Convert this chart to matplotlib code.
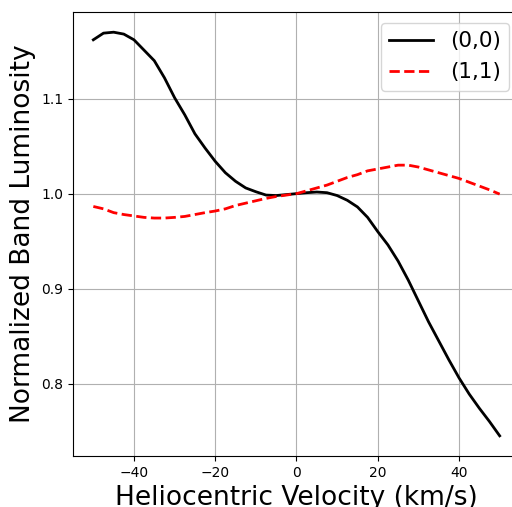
import matplotlib
matplotlib.use("Agg")
import matplotlib.pyplot as plt

velocity = [-50, -47.5, -45, -42.5, -40, -37.5, -35, -32.5, -30, -27.5, -25,
            -22.5, -20, -17.5, -15, -12.5, -10, -7.5, -5, -2.5, 0,
            2.5, 5, 7.5, 10, 12.5, 15, 17.5, 20, 22.5, 25,
            27.5, 30, 32.5, 35, 37.5, 40, 42.5, 45, 47.5, 50]

band_00 = [1.162, 1.169, 1.170, 1.168, 1.162, 1.151, 1.140, 1.122, 1.101, 1.083, 1.063,
           1.048, 1.034, 1.022, 1.013, 1.006, 1.002, 0.9985, 0.998, 0.999, 1.000,
           1.001, 1.0017, 1.001, 0.998, 0.993, 0.986, 0.975, 0.960, 0.946, 0.929,
           0.909, 0.887, 0.865, 0.845, 0.825, 0.806, 0.789, 0.774, 0.760, 0.745]

band_11 = [0.9865, 0.984, 0.980, 0.978, 0.9765, 0.975, 0.9743, 0.9743, 0.975, 0.976, 0.978,
           0.980, 0.9817, 0.984, 0.9875, 0.990, 0.9925, 0.995, 0.997, 0.9985, 1.000,
           1.003, 1.006, 1.009, 1.013, 1.017, 1.020, 1.024, 1.026, 1.028, 1.030,
           1.030, 1.028, 1.025, 1.022, 1.019, 1.016, 1.012, 1.008, 1.004, 0.9995]

fig = plt.figure(figsize=(5.12, 5.07), dpi=100)
ax = fig.add_axes([0.1426, 0.1006, 0.873, 0.8757])

ax.plot(velocity, band_00, color="black", linewidth=2, label="(0,0)")
ax.plot(velocity, band_11, color="red", linestyle="--", linewidth=2, label="(1,1)")

ax.set_xlabel("Heliocentric Velocity (km/s)", fontsize=19)
ax.set_ylabel("Normalized Band Luminosity", fontsize=19)
ax.grid(True)
ax.legend(loc="upper right", fontsize=15.5)

fig.savefig("out.png", dpi=100)
